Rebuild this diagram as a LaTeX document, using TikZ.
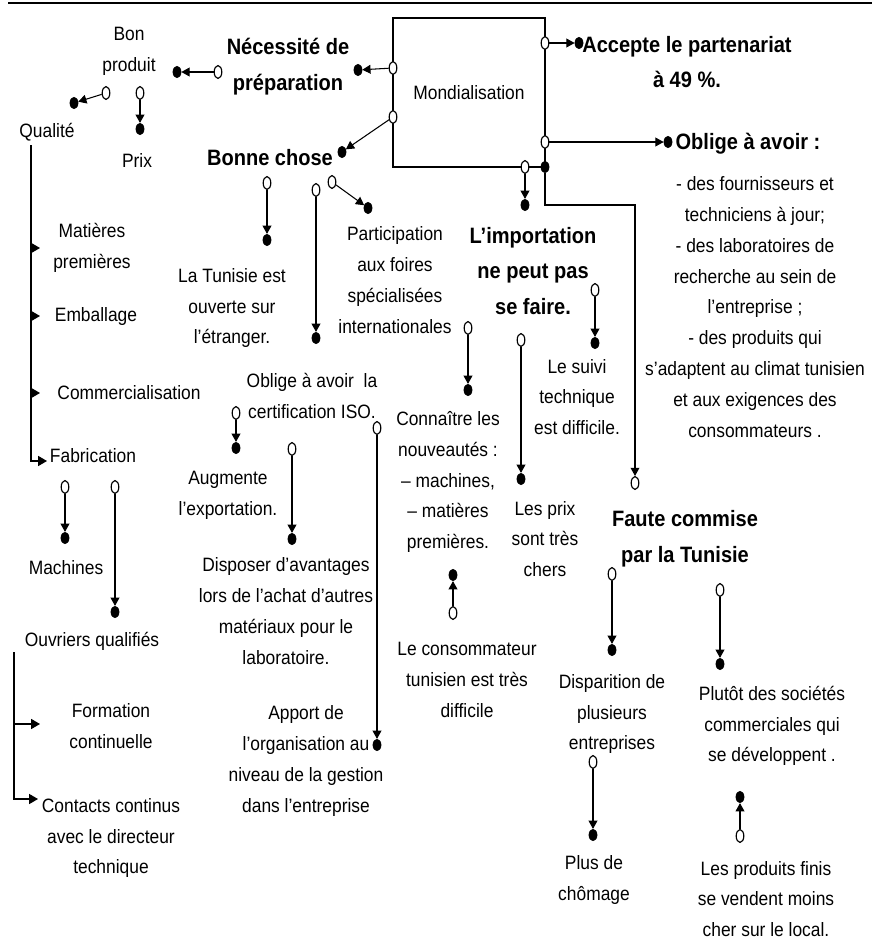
\documentclass[tikz,border=0pt]{standalone}
\usepackage{fontspec}
\setmainfont{Liberation Sans}[FakeStretch=0.9]
\usepackage{tikz}
\usetikzlibrary{shapes.geometric, arrows.meta}
\tikzstyle{txt} = [align=center, inner sep=0pt, font=\fontsize{16.5}{26.3}\selectfont]
\tikzstyle{headtxt} = [align=center, inner sep=0pt, font=\fontsize{19}{30.6}\selectfont\bfseries]
\tikzstyle{opendot} = [ellipse, draw, fill=white, line width=1pt, minimum width=6.5pt, minimum height=11pt, inner sep=0pt]
\tikzstyle{fulldot} = [ellipse, draw, fill=black, minimum width=7pt, minimum height=10pt, inner sep=0pt]
\tikzstyle{link} = [line width=0.9pt, -{Triangle[length=7pt, width=7.5pt]}]
\tikzstyle{branch} = [line width=0.9pt, -{Triangle[length=7.5pt, width=8.5pt]}]

\begin{document}
\begin{tikzpicture}[x=0.03cm, y=-0.03cm]

\useasboundingbox (0,0) rectangle (877,941);
\draw [line width=2pt] (8,3) -- (872,3);

\node (mond)		[txt, draw, line width=0.9pt, minimum width=4.56cm, minimum height=4.47cm] at (469,92.5) {Mondialisation};

\node (bon)			[txt] at (129,51)		{Bon\\produit};
\node (nec)			[headtxt] at (288,67)	{Nécessité de\\préparation};
\node (qual)		[txt] at (47,132)		{Qualité};
\node (prix)		[txt] at (137,160)		{Prix};
\node (bonne)		[headtxt] at (270,158)	{Bonne chose};
\node (accepte)		[headtxt] at (687,62)	{Accepte le partenariat\\à 49 \%.};
\node (oblige)		[headtxt] at (748,144)	{Oblige à avoir :};
\node (obliglist)	[txt] at (755,307)		{- des fournisseurs et\\techniciens à jour;\\- des laboratoires de\\recherche au sein de\\l'entreprise ;\\- des produits qui\\s'adaptent au climat tunisien\\et aux exigences des\\consommateurs .};
\node (matieres)	[txt] at (92,248)		{Matières\\premières};
\node (emb)			[txt] at (96,316)		{Emballage};
\node (comm)		[txt] at (129,393)		{Commercialisation};
\node (fab)			[txt] at (93,456)		{Fabrication};
\node (tunisie)		[txt] at (232,308)		{La Tunisie est\\ouverte sur\\l'étranger.};
\node (partic)		[txt] at (395,280)		{Participation\\aux foires\\spécialisées\\internationales};
\node (import)		[headtxt] at (533,271)	{L'importation\\ne peut pas\\se faire.};
\node (suivi)		[txt] at (577,397)		{Le suivi\\technique\\est difficile.};
\node (certif)		[txt] at (312,396)		{Oblige à avoir~ la\\certification ISO.};
\node (connaitre)	[txt] at (448,482)		{Connaître les\\nouveautés :\\– machines,\\– matières\\premières.};
\node (chers)		[txt] at (545,539)		{Les prix\\sont très\\chers};
\node (faute)		[headtxt] at (685,539)	{Faute commise\\par la Tunisie};
\node (augm)		[txt] at (228,495)		{Augmente\\l'exportation.};
\node (machines)	[txt] at (66,568)		{Machines};
\node (ouvriers)	[txt] at (92,641)		{Ouvriers qualifiés};
\node (disposer)	[txt] at (286,611)		{Disposer d'avantages\\lors de l'achat d'autres\\matériaux pour le\\laboratoire.};
\node (consom)		[txt] at (467,680)		{Le consommateur\\tunisien est très\\difficile};
\node (dispar)		[txt] at (612,714)		{Disparition de\\plusieurs\\entreprises};
\node (plutot)		[txt] at (772,726)		{Plutôt des sociétés\\commerciales qui\\se développent .};
\node (formation)	[txt] at (111,726)		{Formation\\continuelle};
\node (apport)		[txt] at (306,761)		{Apport de\\l'organisation au\\niveau de la gestion\\dans l'entreprise};
\node (contacts)	[txt] at (111,838)		{Contacts continus\\avec le directeur\\technique};
\node (chomage)		[txt] at (594,880)		{Plus de\\chômage};
\node (produits)	[txt] at (766,899)		{Les produits finis\\se vendent moins\\cher sur le local.};

\node (pMN)	[opendot] at (393,68) {};	\node (dMN)	[fulldot] at (358,70) {};
\node (pMB)	[opendot] at (393,117) {};	\node (dMB)	[fulldot] at (342,152) {};
\node (pMA)	[opendot] at (545,43) {};	\node (dMA)	[fulldot] at (579,43) {};
\node (pMO)	[opendot] at (545,142) {};	\node (dMO)	[fulldot] at (668,142) {};
\node (pMI)	[opendot] at (525,167) {};	\node (dMI)	[fulldot] at (525,205) {};
\node (dMF)	[fulldot] at (545,167) {};	\node (pMF)	[opendot] at (635,483) {};
\node (pNB)	[opendot] at (218,72) {};	\node (dNB)	[fulldot] at (177,72) {};
\node (pBQ)	[opendot] at (106,93) {};	\node (dBQ)	[fulldot] at (74,103) {};
\node (pBP)	[opendot] at (140,93) {};	\node (dBP)	[fulldot] at (140,129) {};
\node (pCT)	[opendot] at (267,183) {};	\node (dCT)	[fulldot] at (267,240) {};
\node (pCL)	[opendot] at (316,190) {};	\node (dCL)	[fulldot] at (316,338) {};
\node (pCP)	[opendot] at (332,182) {};	\node (dCP)	[fulldot] at (368,208) {};
\node (pPC)	[opendot] at (468,328) {};	\node (dPC)	[fulldot] at (468,390) {};
\node (pTC)	[opendot] at (453,613) {};	\node (dTC)	[fulldot] at (453,575) {};
\node (pIP)	[opendot] at (521,340) {};	\node (dIP)	[fulldot] at (521,479) {};
\node (pIS)	[opendot] at (595,290) {};	\node (dIS)	[fulldot] at (595,343) {};
\node (pFD)	[opendot] at (612,574) {};	\node (dFD)	[fulldot] at (612,650) {};
\node (pDC)	[opendot] at (593,762) {};	\node (dDC)	[fulldot] at (593,835) {};
\node (pFP)	[opendot] at (720,590) {};	\node (dFP)	[fulldot] at (720,664) {};
\node (pLP)	[opendot] at (740,836) {};	\node (dLP)	[fulldot] at (740,797) {};
\node (pFM)	[opendot] at (65,487) {};	\node (dFM)	[fulldot] at (65,538) {};
\node (pFO)	[opendot] at (115,487) {};	\node (dFO)	[fulldot] at (115,612) {};
\node (pOA)	[opendot] at (236,413) {};	\node (dOA)	[fulldot] at (236,448) {};
\node (pOD)	[opendot] at (292,449) {};	\node (dOD)	[fulldot] at (292,539) {};
\node (pOR)	[opendot] at (377,428) {};	\node (dOR)	[fulldot] at (377,745) {};

\coordinate (qtop) at (31,145);
\coordinate (qbot) at (47,461);
\coordinate (otop) at (14,652);
\coordinate (oform) at (40,724);
\coordinate (ocont) at (38,799);

\draw [link] (pMN) -- (dMN);
\draw [link] (pMB) -- (dMB);
\draw [link] (pMA) -- (dMA);
\draw [link] (pMO) -- (dMO);
\draw [link] (pMI) -- (dMI);
\draw [line width=0.9pt] (pMI) -- (dMF);
\draw [link] (dMF) -- ++(0,38) -| (pMF);
\draw [link] (pNB) -- (dNB);
\draw [link] (pBQ) -- (dBQ);
\draw [link] (pBP) -- (dBP);
\draw [link] (pCT) -- (dCT);
\draw [link] (pCL) -- (dCL);
\draw [link] (pCP) -- (dCP);
\draw [link] (pPC) -- (dPC);
\draw [link] (pTC) -- (dTC);
\draw [link] (pIP) -- (dIP);
\draw [link] (pIS) -- (dIS);
\draw [link] (pFD) -- (dFD);
\draw [link] (pDC) -- (dDC);
\draw [link] (pFP) -- (dFP);
\draw [link] (pLP) -- (dLP);
\draw [link] (pFM) -- (dFM);
\draw [link] (pFO) -- (dFO);
\draw [link] (pOA) -- (dOA);
\draw [link] (pOD) -- (dOD);
\draw [link] (pOR) -- (dOR);

\draw [branch] (qtop) |- (qbot);
\draw [branch] (qtop |- matieres.west) -- ++(9,0);
\draw [branch] (qtop |- emb.west) -- ++(9,0);
\draw [branch] (qtop |- comm.west) -- ++(9,0);
\draw [branch] (otop) |- (ocont);
\draw [branch] (otop |- oform) -- (oform);

\end{tikzpicture}
\end{document}
